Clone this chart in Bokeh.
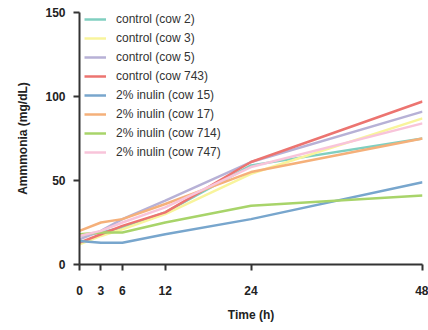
from bokeh.plotting import figure
from bokeh.models import Range1d, FixedTicker, Legend, LegendItem
from bokeh.embed import file_html
from bokeh.resources import INLINE

hours = [0, 3, 6, 12, 24, 48]
x_ticks = [0, 3, 6, 12, 24, 48]
y_ticks = [0, 50, 100, 150]

series_names = [
    "control (cow 2)", "control (cow 3)", "control (cow 5)", "control (cow 743)",
    "2% inulin (cow 15)", "2% inulin (cow 17)", "2% inulin (cow 714)", "2% inulin (cow 747)",
]
cow2 = [17, 19, 22, 31, 59, 75]
cow3 = [12, 17, 21, 30, 54, 87]
cow5 = [15, 20, 27, 38, 61, 91]
cow743 = [13, 18, 23, 31, 61, 97]
cow15 = [14, 13, 13, 18, 27, 49]
cow17 = [20, 25, 27, 36, 55, 75]
cow714 = [18, 19, 19, 25, 35, 41]
cow747 = [17, 20, 25, 34, 58, 84]
series_values = [cow2, cow3, cow5, cow743, cow15, cow17, cow714, cow747]
colors = ["#80cfc0", "#f8f49c", "#b7b1d6", "#ec7470", "#78a6cd", "#f5b07a", "#a8d46a", "#f8c4da"]

FONT = "Liberation Sans"
TXT = "#222222"

p = figure(width=428, height=330, output_backend="svg", toolbar_location=None,
           x_range=Range1d(0, 48), y_range=Range1d(0, 150),
           min_border_left=79, min_border_right=6, min_border_top=12, min_border_bottom=66)
p.outline_line_color = None
p.grid.visible = False
p.background_fill_color = None
p.border_fill_color = "white"

items = []
for name, vals, c in zip(series_names, series_values, colors):
    r = p.line(hours, vals, line_color=c, line_width=2.5)
    items.append(LegendItem(label=name, renderers=[r]))

for ax in (p.xaxis[0], p.yaxis[0]):
    ax.axis_line_width = 2
    ax.axis_line_color = "#333333"
    ax.major_tick_line_width = 2
    ax.major_tick_line_color = "#333333"
    ax.major_tick_out = 6
    ax.major_tick_in = 0
    ax.minor_tick_line_color = None
    ax.major_label_text_font = FONT
    ax.major_label_text_font_style = "bold"
    ax.major_label_text_font_size = "12px"
    ax.major_label_text_color = TXT
    ax.axis_label_text_font = FONT
    ax.axis_label_text_font_style = "bold"
    ax.axis_label_text_font_size = "12px"
    ax.axis_label_text_color = TXT

p.xaxis.ticker = FixedTicker(ticks=x_ticks)
p.yaxis.ticker = FixedTicker(ticks=y_ticks)
p.xaxis.axis_label = "Time (h)"
p.yaxis.axis_label = "Ammmonia (mg/dL)"
p.xaxis.major_label_standoff = 15
p.yaxis.major_label_standoff = 8
p.xaxis.axis_label_standoff = 10
p.yaxis.axis_label_standoff = 12

legend = Legend(items=items, location=(5, 103), glyph_width=22, glyph_height=18,
                label_height=18, spacing=1, padding=0, margin=0, label_standoff=10,
                label_text_font=FONT, label_text_font_size="12px", label_text_color="#333333",
                background_fill_alpha=0, border_line_color=None)
p.add_layout(legend)

open("out.html", "w").write(file_html(p, INLINE))
